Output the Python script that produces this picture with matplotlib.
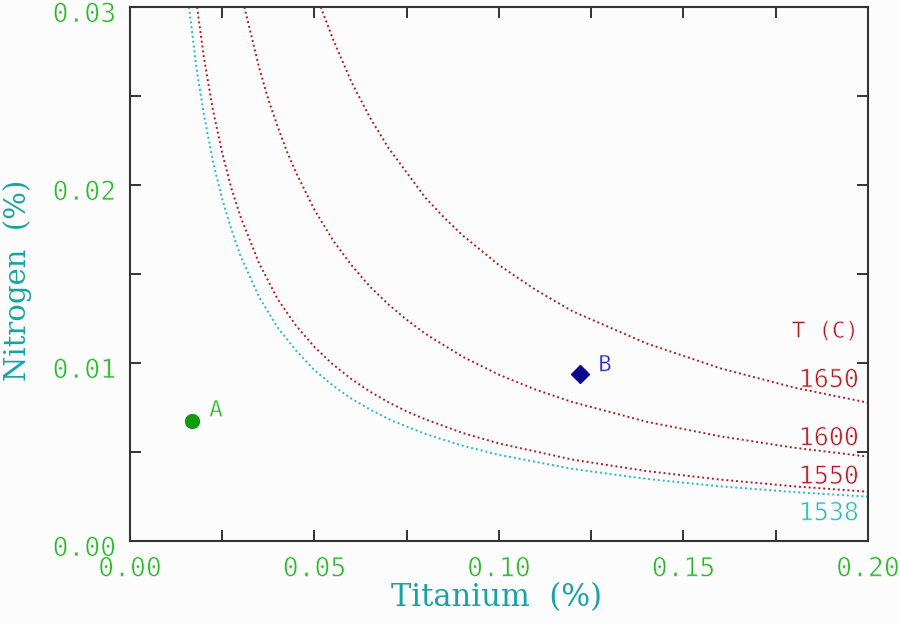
import matplotlib
matplotlib.use("Agg")
import matplotlib.pyplot as plt
import matplotlib.patheffects as pe
from matplotlib.ticker import MultipleLocator
from matplotlib.transforms import ScaledTranslation

# --- data ---
ti_1538 = [0.016, 0.018, 0.020, 0.0225, 0.025, 0.0275, 0.030, 0.035, 0.040, 0.045, 0.050,
           0.055, 0.060, 0.065, 0.070, 0.075, 0.080, 0.090, 0.100, 0.120, 0.140, 0.160,
           0.180, 0.200]
n_1538 = [0.0300, 0.0266, 0.0240, 0.0213, 0.0192, 0.0175, 0.0160, 0.0137, 0.0120, 0.0107, 0.0096,
          0.00873, 0.0080, 0.00740, 0.00686, 0.00643, 0.00602, 0.00536, 0.00484, 0.00405,
          0.00349, 0.00307, 0.00275, 0.00249]

ti_1550 = [0.0182, 0.020, 0.0225, 0.025, 0.0275, 0.030, 0.035, 0.040, 0.045, 0.050,
           0.055, 0.060, 0.065, 0.070, 0.075, 0.080, 0.090, 0.100, 0.120, 0.140, 0.160,
           0.180, 0.200]
n_1550 = [0.0300, 0.0272, 0.0242, 0.0218, 0.0198, 0.0182, 0.0156, 0.0136, 0.0121, 0.0109,
          0.00992, 0.00910, 0.00840, 0.00780, 0.00728, 0.00684, 0.00608, 0.00548, 0.00457,
          0.00393, 0.00345, 0.00307, 0.00277]

ti_1600 = [0.031, 0.035, 0.0375, 0.040, 0.0425, 0.045, 0.050, 0.055, 0.060, 0.065, 0.070,
           0.075, 0.080, 0.090, 0.100, 0.110, 0.120, 0.140, 0.160, 0.180, 0.200]
n_1600 = [0.0300, 0.0266, 0.0248, 0.0233, 0.0219, 0.0207, 0.0186, 0.0169, 0.0155, 0.0143,
          0.0133, 0.01243, 0.01165, 0.01037, 0.00934, 0.00850, 0.00780, 0.00670, 0.00588,
          0.00524, 0.00474]

ti_1650 = [0.0517, 0.055, 0.060, 0.065, 0.070, 0.075, 0.080, 0.085, 0.090, 0.100, 0.110,
           0.120, 0.140, 0.160, 0.180, 0.200]
n_1650 = [0.0300, 0.0282, 0.0258, 0.0238, 0.0221, 0.0207, 0.0193, 0.0182, 0.0172, 0.0155,
          0.0141, 0.0129, 0.0111, 0.00970, 0.00862, 0.00777]

point_labels = ["A", "B"]
point_ti = [0.0168, 0.122]
point_n = [0.00676, 0.00937]

curve_labels = ["1650", "1600", "1550", "1538"]
curve_label_n = [0.00904, 0.00577, 0.00361, 0.00156]

x_ticks = [0.00, 0.05, 0.10, 0.15, 0.20]
y_ticks = [0.00, 0.01, 0.02, 0.03]

# --- styles ---
BG = "#fcfcfc"
RED = "#b01a28"
CYAN = "#22bcbc"
GREEN_TXT = "#2ab82a"
TEAL = "#17a3a6"
FRAME = "#333333"
MONO = "DejaVu Sans Mono"
thin = [pe.Normal(), pe.Stroke(linewidth=0.55, foreground=BG)]
thin_s = [pe.Normal(), pe.Stroke(linewidth=0.45, foreground=BG)]

fig = plt.figure(figsize=(9, 6.24), dpi=100, facecolor=BG)
ax = fig.add_axes([0.1444, 0.1330, 0.8200, 0.8558])
ax.set_facecolor(BG)

dot = (0, (1, 1.5))
ax.plot(ti_1538, n_1538, color=CYAN, lw=1.4, ls=dot)
ax.plot(ti_1550, n_1550, color=RED, lw=1.4, ls=dot)
ax.plot(ti_1600, n_1600, color=RED, lw=1.4, ls=dot)
ax.plot(ti_1650, n_1650, color=RED, lw=1.4, ls=dot)

ax.plot(point_ti[0], point_n[0], marker="o", ms=10, color="#0c9c0c", ls="none")
ax.plot(point_ti[1], point_n[1], marker="D", ms=9, color="#0a0a8c", ls="none")
ax.annotate(point_labels[0], (point_ti[0], point_n[0]), xytext=(12.5, 7.5), textcoords="offset points",
            color="#22b022", fontsize=16, family=MONO, va="center", ha="left", path_effects=thin_s)
ax.annotate(point_labels[1], (point_ti[1], point_n[1]), xytext=(13, 6.5), textcoords="offset points",
            color="#2020c0", fontsize=16, family=MONO, va="center", ha="left", path_effects=thin_s)

ax.text(0.1975, 0.01176, "T (C)", color=RED, fontsize=16, ha="right", va="center", family=MONO,
        path_effects=thin_s)
for lab, yv in zip(curve_labels, curve_label_n):
    ax.text(0.1975, yv, lab, color=(CYAN if lab == "1538" else RED), fontsize=18,
            ha="right", va="center", family=MONO, path_effects=thin)

ax.set_xlim(0, 0.20)
ax.set_ylim(0, 0.03)
ax.set_xticks(x_ticks)
ax.set_yticks(y_ticks)
ax.set_xticklabels([f"{v:.2f}" for v in x_ticks], family=MONO)
ax.set_yticklabels([f"{v:.2f}" for v in y_ticks], family=MONO)
ax.xaxis.set_minor_locator(MultipleLocator(0.025))
ax.yaxis.set_minor_locator(MultipleLocator(0.005))
ax.tick_params(which="both", direction="in", top=True, right=True, length=8, width=1.4,
               color=FRAME)
ax.tick_params(axis="x", which="major", pad=11, labelsize=19, labelcolor=GREEN_TXT)
ax.tick_params(axis="y", which="major", pad=10, labelsize=19, labelcolor=GREEN_TXT)
for lbl in ax.get_xticklabels() + ax.get_yticklabels():
    lbl.set_path_effects(thin)
down = ScaledTranslation(0, -5 / 100, fig.dpi_scale_trans)
for lbl in ax.get_yticklabels():
    lbl.set_transform(lbl.get_transform() + down)
for s in ax.spines.values():
    s.set_color(FRAME)
    s.set_linewidth(1.5)

fig.text(497 / 900, 1 - 606 / 624, "Titanium  (%)", family="DejaVu Serif", fontsize=22,
         color=TEAL, ha="center", va="baseline")
fig.text(18 / 900, 1 - 280 / 624, "Nitrogen  (%)", family="DejaVu Serif", fontsize=21,
         color=TEAL, ha="center", va="center", rotation=90)

fig.savefig("out.png", dpi=100, facecolor=fig.get_facecolor())
